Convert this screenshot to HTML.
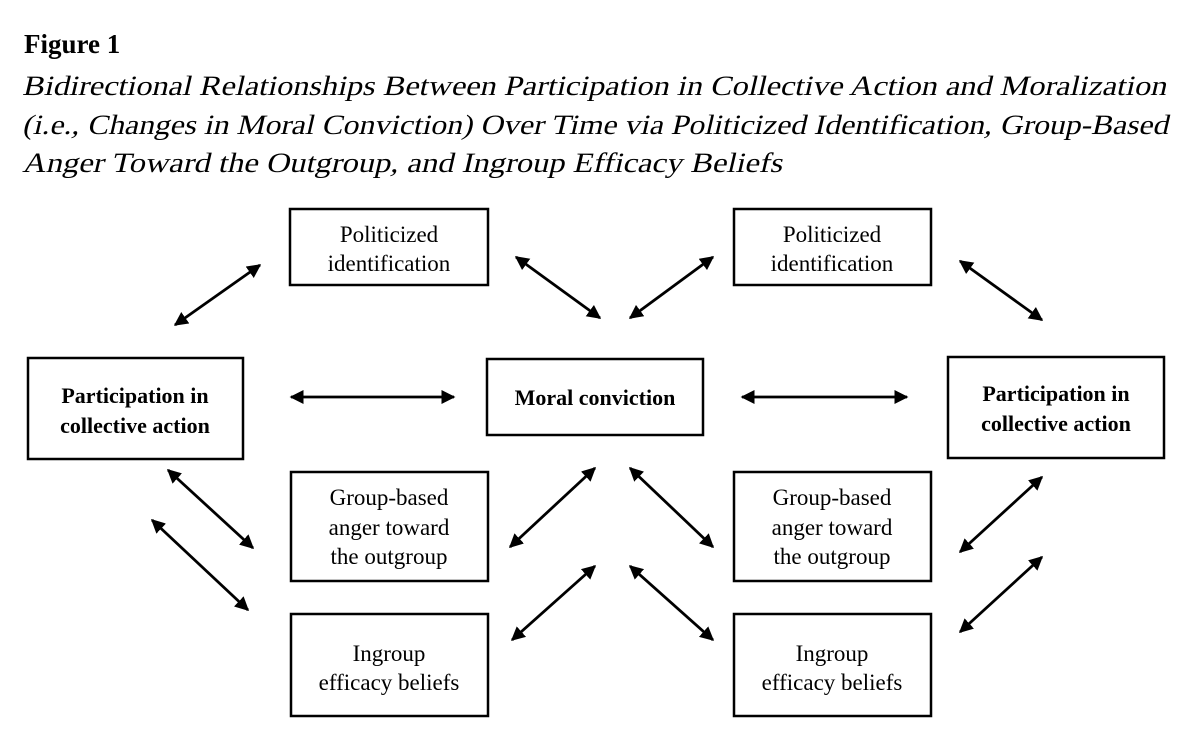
<!DOCTYPE html>
<html><head><meta charset="utf-8"><style>
html,body{margin:0;padding:0;background:#fff;}
svg{display:block;}
text{font-family:"Liberation Serif",serif;fill:#000;}
</style></head><body>
<svg width="1192" height="752" viewBox="0 0 1192 752" xmlns="http://www.w3.org/2000/svg">
<defs>
<marker id="a" viewBox="0 0 10 10" refX="9" refY="5" markerWidth="5" markerHeight="5" orient="auto-start-reverse" markerUnits="strokeWidth">
<path d="M0,0 L10,5 L0,10 z" fill="#000"/></marker>
</defs>
<text x="24" y="53" font-size="27" font-weight="bold">Figure 1</text>
<g font-size="28">
<text transform="translate(22,95) skewX(-13)" x="0" y="0" textLength="1144" lengthAdjust="spacingAndGlyphs">Bidirectional Relationships Between Participation in Collective Action and Moralization</text>
<text transform="translate(22,134) skewX(-13)" x="0" y="0" textLength="1146" lengthAdjust="spacingAndGlyphs">(i.e., Changes in Moral Conviction) Over Time via Politicized Identification, Group-Based</text>
<text transform="translate(22,172) skewX(-13)" x="0" y="0" textLength="760" lengthAdjust="spacingAndGlyphs">Anger Toward the Outgroup, and Ingroup Efficacy Beliefs</text>
</g>
<g fill="none" stroke="#000" stroke-width="2.5">
<rect x="290" y="209" width="198" height="76"/>
<rect x="734" y="209" width="197" height="76"/>
<rect x="28" y="358" width="215" height="101"/>
<rect x="487" y="359" width="216" height="76"/>
<rect x="948" y="357" width="216" height="101"/>
<rect x="291" y="472" width="197" height="109"/>
<rect x="734" y="472" width="197" height="109"/>
<rect x="291" y="614" width="197" height="102"/>
<rect x="734" y="614" width="197" height="102"/>
</g>
<g font-size="23" text-anchor="middle">
<text x="389" y="242">Politicized</text><text x="389" y="271">identification</text>
<text x="832" y="242">Politicized</text><text x="832" y="271">identification</text>
<text x="389" y="505">Group-based</text><text x="389" y="535">anger toward</text><text x="389" y="564">the outgroup</text>
<text x="832" y="505">Group-based</text><text x="832" y="535">anger toward</text><text x="832" y="564">the outgroup</text>
<text x="389" y="661">Ingroup</text><text x="389" y="690">efficacy beliefs</text>
<text x="832" y="661">Ingroup</text><text x="832" y="690">efficacy beliefs</text>
</g>
<g font-size="22" font-weight="bold" text-anchor="middle">
<text x="135" y="403">Participation in</text><text x="135" y="433">collective action</text>
<text x="595" y="405">Moral conviction</text>
<text x="1056" y="401">Participation in</text><text x="1056" y="431">collective action</text>
</g>
<g stroke="#000" stroke-width="2.8" marker-start="url(#a)" marker-end="url(#a)">
<line x1="175" y1="325" x2="260" y2="265"/>
<line x1="516" y1="257" x2="600" y2="318"/>
<line x1="630" y1="318" x2="713" y2="257"/>
<line x1="960" y1="261" x2="1042" y2="320"/>
<line x1="291" y1="397" x2="454" y2="397"/>
<line x1="742" y1="397" x2="907" y2="397"/>
<line x1="168" y1="470" x2="253" y2="548"/>
<line x1="152" y1="520" x2="248" y2="610"/>
<line x1="510" y1="547" x2="595" y2="468"/>
<line x1="630" y1="468" x2="713" y2="547"/>
<line x1="512" y1="640" x2="595" y2="566"/>
<line x1="630" y1="566" x2="713" y2="640"/>
<line x1="960" y1="552" x2="1042" y2="477"/>
<line x1="960" y1="632" x2="1042" y2="557"/>
</g>
</svg>
</body></html>
